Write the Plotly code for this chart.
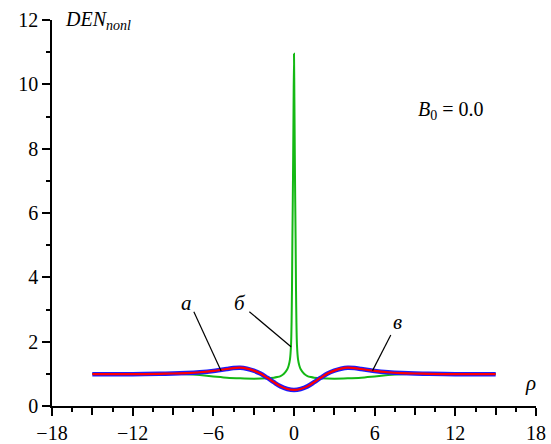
import plotly.graph_objects as go

# ---- data ----
rho_side = [0, 0.5, 1, 1.5, 2, 2.5, 3, 3.5, 4, 4.5, 5, 5.5, 6, 7, 8, 9, 10, 12, 15]
den_a = [0.50, 0.53, 0.61, 0.74, 0.88, 1.01, 1.10, 1.16, 1.19, 1.18, 1.15, 1.12,
         1.09, 1.05, 1.025, 1.01, 1.0, 0.99, 0.99]

rho_g_side = [0, 0.03, 0.06, 0.09, 0.12, 0.15, 0.18, 0.22, 0.3, 0.4, 0.5, 0.75, 1,
              1.25, 1.5, 2, 3, 4, 5, 6, 7, 8, 9, 10, 15]
den_b = [10.95, 9.5, 7.8, 6.4, 5.2, 3.6, 2.6, 1.9, 1.45, 1.25, 1.14, 1.0, 0.93,
         0.90, 0.88, 0.86, 0.85, 0.86, 0.88, 0.92, 0.96, 0.99, 1.0, 1.0, 1.0]

x_major = [-18, -12, -6, 0, 6, 12, 18]
x_labels = ["\u221218", "\u221212", "\u22126", "0", "6", "12", "18"]
x_mid = [-15, -9, -3, 3, 9, 15]


def mirror(xs, ys):
    xx = [-v for v in reversed(xs[1:])] + list(xs)
    yy = list(reversed(ys[1:])) + list(ys)
    return xx, yy


xa, ya = mirror(rho_side, den_a)
xb, yb = mirror(rho_g_side, den_b)

FONT = "Liberation Serif"

fig = go.Figure()
fig.add_trace(go.Scatter(x=xb, y=yb, mode="lines",
                         line=dict(color="#14b814", width=2, shape="spline", smoothing=0.5),
                         showlegend=False))
fig.add_trace(go.Scatter(x=xa, y=ya, mode="lines",
                         line=dict(color="#1a1aff", width=4.5, shape="spline", smoothing=0.8),
                         showlegend=False))
fig.add_trace(go.Scatter(x=xa, y=ya, mode="lines",
                         line=dict(color="#ff0000", width=2.2, shape="spline", smoothing=0.8),
                         showlegend=False))
# invisible trace carrying the secondary tick axis
fig.add_trace(go.Scatter(x=x_mid, y=[None] * len(x_mid), xaxis="x2", mode="lines",
                         showlegend=False, hoverinfo="skip"))

# leader lines and labels
leaders = [
    ("а", (-7.45, 2.93), (-5.42, 1.09), (-8.0, 3.2)),
    ("б", (-3.32, 2.93), (-0.22, 1.84), (-4.0, 3.2)),
    ("в", (7.2, 2.21), (5.84, 1.10), (7.7, 2.6)),
]
for txt, p0, p1, pt in leaders:
    fig.add_shape(type="line", x0=p0[0], y0=p0[1], x1=p1[0], y1=p1[1],
                  xref="x", yref="y", line=dict(color="black", width=1.2))
    fig.add_annotation(x=pt[0], y=pt[1], xref="x", yref="y", text="<i>%s</i>" % txt,
                       showarrow=False, font=dict(family=FONT, size=21, color="black"))

fig.add_annotation(x=-17.2, y=12, xref="x", yref="y", xanchor="left", yanchor="middle",
                   text="<i>DEN</i><sub><i>nonl</i></sub>", showarrow=False,
                   font=dict(family=FONT, size=20, color="black"))
fig.add_annotation(x=11.7, y=9.2, xref="x", yref="y", xanchor="center", yanchor="middle",
                   text="<i>B</i><sub>0</sub> = 0.0", showarrow=False,
                   font=dict(family=FONT, size=20, color="black"))
fig.add_annotation(x=17.6, y=0.7, xref="x", yref="y", xanchor="center", yanchor="middle",
                   text="<i>ρ</i>", showarrow=False,
                   font=dict(family=FONT, size=21, color="black"))

fig.update_layout(
    width=551, height=444,
    margin=dict(l=52, r=15, t=20, b=38),
    paper_bgcolor="white", plot_bgcolor="white",
    font=dict(family=FONT, size=20, color="black"),
    xaxis2=dict(overlaying="x", side="bottom", anchor="y", range=[-18, 18],
                showgrid=False, zeroline=False, showline=False, automargin=False,
                tickmode="array", tickvals=x_mid, showticklabels=False,
                ticks="outside", ticklen=8, tickwidth=1.5, tickcolor="black"),
)
fig.layout.xaxis.update(range=[-18, 18], showgrid=False, zeroline=False, automargin=False,
                        showline=True, linecolor="black", linewidth=1.5,
                        tickmode="array", tickvals=x_major, ticktext=x_labels,
                        ticks="outside", ticklen=8, tickwidth=1.5, tickcolor="black",
                        minor=dict(dtick=1.5, tick0=0, ticks="outside", ticklen=4,
                                   tickwidth=1.5, tickcolor="black", showgrid=False),
                        tickfont=dict(family=FONT, size=20))
fig.update_yaxes(range=[0, 12], showgrid=False, zeroline=False, automargin=False,
                 showline=True, linecolor="black", linewidth=1.5,
                 tickmode="linear", tick0=0, dtick=2,
                 ticks="outside", ticklen=8, tickwidth=1.5, tickcolor="black",
                 minor=dict(dtick=1, tick0=0, ticks="outside", ticklen=4,
                            tickwidth=1.5, tickcolor="black", showgrid=False),
                 tickfont=dict(family=FONT, size=20))

fig.write_html("out.html")
